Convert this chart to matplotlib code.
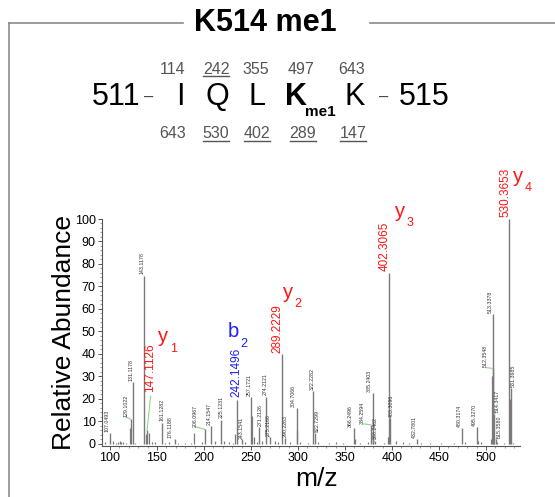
import matplotlib
matplotlib.use('Agg')
import matplotlib.pyplot as plt
from matplotlib.lines import Line2D
from matplotlib.ticker import MultipleLocator

plt.rcParams['font.family'] = ['Liberation Sans', 'DejaVu Sans']

# ---------------- data ----------------
title = "K514 me1"
seq_start, seq_end = "511", "515"
residues = ["I", "Q", "L", "K", "K"]
mod_label = "me1"
b_masses = ["114", "242", "355", "497", "643"]
b_observed = [False, True, False, False, False]
y_masses = ["643", "530", "402", "289", "147"]
y_observed = [False, True, True, True, True]

# labelled peaks (apparent axis position, relative intensity, label)
peak_pos = [100.0, 122.0, 124.1, 136.5, 155.0, 169.1, 201.1, 207.1, 218.1,
            240.0, 250.3, 258.8, 266.0, 270.2, 286.2, 298.6, 316.3, 317.6,
            359.6, 377.7, 379.4, 380.3, 397.9, 426.9, 474.8, 490.1, 507.1,
            507.8, 508.8, 510.6, 526.3]
peak_int = [5, 11, 27.5, 74.5, 9.5, 2, 6.5, 8, 10.7,
            2, 21, 7.7, 21, 3, 2.5, 16, 23.4, 5,
            7, 8.5, 22.6, 4, 11.5, 2, 7, 7.5, 33.6,
            57.6, 13.5, 2, 24.8]
peak_text = ["107.0493", "129.1022", "131.1178", "143.1178", "161.1282", "176.1188",
             "206.0967", "214.1547", "225.1231", "243.1541", "257.1721", "271.2126",
             "274.2121", "275.2166", "290.2263", "304.7066", "322.2282", "322.7299",
             "366.2496", "384.2594", "385.2403", "386.2462", "403.3096", "432.7801",
             "480.3174", "495.3270", "512.3548", "513.3378", "514.3417", "515.3580",
             "531.3685"]

# annotated fragment ions
ion_pos = [139.4, 235.4, 283.3, 396.8, 524.8]
ion_int = [6, 19.5, 40, 76, 100]
ion_mz = ["147.1126", "242.1496", "289.2229", "402.3065", "530.3653"]
ion_type = ["y", "b", "y", "y", "y"]
ion_num = ["1", "2", "2", "3", "4"]

# unlabelled peaks
other_pos = [95, 103, 106, 108.5, 110.5, 112, 114, 117, 121.5, 127, 138.2, 141, 145, 148,
             158, 163, 172, 180, 186, 189.7, 198, 212, 221, 227, 231, 233, 244,
             250.6, 253, 256, 262, 276, 279, 292, 298.9, 302, 311, 321, 333, 340,
             348, 361, 366, 375, 382, 391, 396.2, 404, 412, 418, 431, 440, 452,
             466, 478, 492, 495, 505, 506.5, 512, 519, 525.6, 529]
other_int = [0.8, 1.2, 0.6, 1.0, 1.2, 0.8, 1.0, 0.6, 7, 0.5, 4.5, 5, 1.0, 0.8,
             0.6, 1.0, 0.6, 0.5, 0.4, 5, 1.0, 1.2, 1.5, 1.0, 0.5, 4.5, 1.0,
             12.5, 3.0, 1.0, 1.5, 1.2, 0.8, 1.0, 6, 1.0, 0.6, 1.0, 0.5, 0.8,
             0.6, 2.0, 0.5, 1.0, 1.5, 0.6, 3, 1.2, 0.8, 0.5, 0.6, 0.4, 0.5,
             0.6, 0.8, 1.5, 0.8, 2, 30, 0.8, 0.5, 20, 0.6]

# ---------------- layout (label placement) ----------------
lab_x = [96.5, 117, 122.3, 133.9, 155.0, 163.5, 190.4, 206, 218.1,
         240.0, 248, 260.3, 264.6, 268.8, 286.2, 295, 315.6, 320.5,
         356.1, 368.8, 375.9, 382.7, 398.9, 423.7, 472.3, 487.6, 498.9,
         504.4, 512, 513.8, 529]
lab_y = [5.3, 12, 28, 75.4, 10, 2.5, 7.7, 8.5, 11.6,
         2.3, 21.5, 8.2, 21.8, 3.5, 3.0, 16.5, 23.8, 5.5,
         7.5, 9.0, 23.0, 2.2, 12, 2.5, 7.5, 8.0, 34,
         58, 14, 2.5, 25.2]
leader = [False, True, False, False, False, False, True, False, False,
          False, False, False, False, True, False, False, False, True,
          False, True, False, True, True, False, False, False, True,
          False, True, True, False]

ion_lab_x = [142.6, 234.0, 277.7, 391.8, 520.5]
ion_lab_y = [23.2, 21.0, 40.6, 76.8, 100.9]
ion_let_x = [151.5, 225.0, 284.0, 403.2, 528.7]
ion_let_y = [45.3, 47.5, 65.0, 101.0, 116.5]
ion_leader = [True, False, False, False, False]

RED = "#ff1414"
BLUE = "#1e1eff"
GREEN = "#8fd68f"
GREY = "#7a7a7a"

W, H = 555, 497
fig = plt.figure(figsize=(W / 100, H / 100), dpi=100)


def fx(px):
    return px / W


def fy(py):
    return 1 - py / H


# ---------------- header ----------------
frame_c = "#8a8a8a"
fig.add_artist(Line2D([fx(8.5), fx(183)], [fy(23), fy(23)], color=frame_c, lw=1.2))
fig.add_artist(Line2D([fx(370), fx(556)], [fy(23), fy(23)], color=frame_c, lw=1.2))
fig.add_artist(Line2D([fx(8.5), fx(8.5)], [fy(23), fy(498)], color=frame_c, lw=1.2))
fig.text(fx(265), fy(23), title, fontsize=22, fontweight='bold', ha='center', va='center')

seq_y = 97
fig.text(fx(116), fy(seq_y), seq_start, fontsize=22, ha='center', va='center')
fig.text(fx(149), fy(seq_y), "–", fontsize=12, ha='center', va='center', color="#444444")
res_x = [180, 217, 257, 296, 355]
for i, (r, x) in enumerate(zip(residues, res_x)):
    fig.text(fx(x), fy(seq_y), r, fontsize=22, ha='center', va='center',
             fontweight='bold' if i == 3 else 'normal')
fig.text(fx(320), fy(112), mod_label, fontsize=11, fontweight='bold', ha='center', va='center')
fig.text(fx(384), fy(seq_y), "–", fontsize=12, ha='center', va='center', color="#444444")
fig.text(fx(424), fy(seq_y), seq_end, fontsize=22, ha='center', va='center')

num_c = "#555555"
top_x = [173, 216, 256, 301, 352]
bot_x = [173, 216, 257, 303, 353]
for m, obs, x in zip(b_masses, b_observed, top_x):
    fig.text(fx(x), fy(69), m, fontsize=11.5, ha='center', va='center', color=num_c)
    if obs:
        fig.add_artist(Line2D([fx(x - 13), fx(x + 13)], [fy(75.5), fy(75.5)], color=num_c, lw=1))
for m, obs, x in zip(y_masses, y_observed, bot_x):
    fig.text(fx(x), fy(133), m, fontsize=11.5, ha='center', va='center', color=num_c)
    if obs:
        fig.add_artist(Line2D([fx(x - 13), fx(x + 13)], [fy(140.5), fy(140.5)], color=num_c, lw=1))

# ---------------- spectrum ----------------
ax = fig.add_axes([fx(102), fy(446), fx(520) - fx(102), fy(219) - fy(446)])
ax.set_xlim(91.5, 536.2)
ax.set_ylim(-0.9, 100)

ax.vlines(other_pos, 0, other_int, colors=GREY, lw=0.9)
ax.vlines(peak_pos, 0, peak_int, colors=GREY, lw=1.0)
ax.vlines(ion_pos, 0, ion_int, colors=GREY, lw=1.0)

for t, px, ph, lx, ly, ld in zip(peak_text, peak_pos, peak_int, lab_x, lab_y, leader):
    ax.text(lx, ly, t, rotation=90, fontsize=3.8, ha='center', va='bottom', color="#333333")
    if ld:
        ax.plot([lx, px], [ly, ph], color=GREEN, lw=0.8)

for p, h, mz, typ, num, lx, ly, tx, ty, ld in zip(ion_pos, ion_int, ion_mz, ion_type, ion_num,
                                                   ion_lab_x, ion_lab_y, ion_let_x, ion_let_y, ion_leader):
    c = RED if typ == "y" else BLUE
    ax.text(lx, ly, mz, rotation=90, fontsize=8.5, ha='center', va='bottom', color=c)
    if ld:
        ax.plot([lx + 0.7, p], [ly - 2, h], color=GREEN, lw=0.8)
    t1 = ax.text(tx, ty, typ, fontsize=14.5, ha='left', va='baseline', color=c)
    ax.annotate(num, xy=(1, 0), xycoords=t1, xytext=(1, -4), textcoords='offset points',
                fontsize=9, ha='left', va='baseline', color=c, annotation_clip=False)

for s in ['top', 'right']:
    ax.spines[s].set_visible(False)
for s in ['left', 'bottom']:
    ax.spines[s].set_color("#555555")
    ax.spines[s].set_linewidth(0.8)

ax.set_yticks(range(0, 101, 10))
ax.set_xticks(range(100, 501, 50))
ax.yaxis.set_minor_locator(MultipleLocator(2))
ax.xaxis.set_minor_locator(MultipleLocator(10))
ax.tick_params(axis='both', which='major', labelsize=9, length=3, width=0.7, color="#555555", pad=1.5)
ax.tick_params(axis='both', which='minor', length=1.5, width=0.5, color="#777777")

fig.text(fx(64), fy(333), "Relative Abundance", fontsize=19, rotation=90, ha='center', va='center')
fig.text(fx(317), fy(479), "m/z", fontsize=19, ha='center', va='center')

fig.savefig("out.png", dpi=100)
